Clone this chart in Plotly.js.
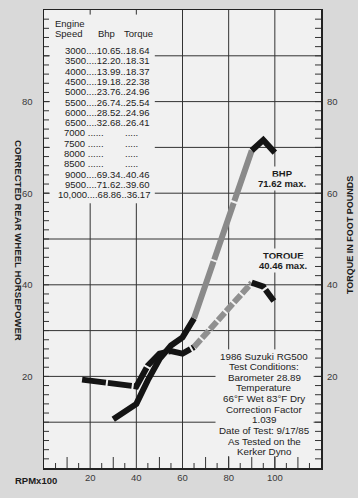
<!DOCTYPE html>
<html>
<head>
<meta charset="utf-8">
<script src="https://cdn.plot.ly/plotly-3.0.1.min.js"></script>
<style>html,body{margin:0;padding:0;background:#d9d9d9;}#chart{width:358px;height:498px;}</style>
</head>
<body>
<div id="chart"></div>
<script>
// ---- data (table printed on the chart) ----
const engineSpeed = [3000, 3500, 4000, 4500, 5000, 5500, 6000, 6500, 7000, 7500, 8000, 8500, 9000, 9500, 10000];
const bhpTable    = [10.65, 12.20, 13.99, 19.18, 23.76, 26.74, 28.52, 32.68, null, null, null, null, 69.34, 71.62, 68.86];
const torqueTable = [18.64, 18.31, 18.37, 22.38, 24.96, 25.54, 24.96, 26.41, null, null, null, null, 40.46, 39.60, 36.17];

// ---- curves as drawn (RPM x100) ----
const bhpMeasRpm   = [30, 35, 40, 45, 50, 55, 60, 65];
const bhpMeasVal   = [10.65, 12.20, 13.99, 19.18, 23.76, 26.74, 28.52, 32.68];
const bhpGapRpm    = [65, 90];
const bhpGapVal    = [32.68, 69.34];
const bhpTopRpm    = [90, 95, 100];
const bhpTopVal    = [69.34, 71.62, 68.86];

const tqMeasRpm    = [16.5, 40, 45, 50, 55, 60, 65];
const tqMeasVal    = [19.3, 17.8, 22.38, 24.96, 25.54, 24.96, 26.41];
const tqGapRpm     = [65, 90];
const tqGapVal     = [26.41, 40.46];
const tqTopRpm     = [90, 95, 100];
const tqTopVal     = [40.46, 39.60, 36.17];

// ---- ticks ----
const xTickVals = [20, 40, 60, 80, 100];
const xTickText = ['20', '40', '60', '80', '100'];
const xLongTicks = [10, 30, 50, 70, 80, 90, 100, 110];
const yGridVals = [10, 20, 30, 40, 50, 60, 70, 80, 90];
const yGridText = ['', '20', '', '40', '', '60', '', '80', ''];
const yRightVals = [20, 40, 60, 80];
const yRightText = ['20', '40', '60', '80'];

const infoLines = ['1986 Suzuki RG500', 'Test Conditions:', 'Barometer 28.89', 'Temperature',
  '66°F Wet 83°F Dry', 'Correction Factor', '1.039', 'Date of Test: 9/17/85', 'As Tested on the', 'Kerker Dyno'];

// ---- layout helpers ----
const W = 358, H = 498, ML = 44, MR = 37, MT = 10, MB = 30;
const PW = W - ML - MR, PH = H - MT - MB;
const X_MAX = 120, Y_MAX = 100;
const UX = X_MAX / PW, UY = Y_MAX / PH;          // data units per pixel
const px = p => (p - ML) / PW;
const py = p => (H - MB - p) / PH;
const FONT = '"Liberation Sans", Arial, Helvetica, sans-serif';
const INK = '#1c1c1c';
const PLOTBG = '#f1f1f1';
const TICK = '#333';

// blank panels (grid is interrupted behind the table and the note)
const panels = [
  {x0: 2.5, x1: 48, y0: 57.8, y1: 99},
  {x0: 74.3, x1: 116.8, y0: 2.6, y1: 25.9}
];
function cutSegment(a, b, cuts) {
  let segs = [[a, b]];
  cuts.forEach(([c0, c1]) => {
    const next = [];
    segs.forEach(([s0, s1]) => {
      if (c1 <= s0 || c0 >= s1) { next.push([s0, s1]); return; }
      if (c0 > s0) next.push([s0, c0]);
      if (c1 < s1) next.push([c1, s1]);
    });
    segs = next;
  });
  return segs;
}

// grid lines and tick marks of the printed chart (built from the tick arrays)
const gridX = [], gridY = [];
xTickVals.forEach(v => {
  const cuts = panels.filter(p => v > p.x0 && v < p.x1).map(p => [p.y0, p.y1]);
  cutSegment(0, Y_MAX, cuts).forEach(([s0, s1]) => { gridX.push(v, v, null); gridY.push(s0, s1, null); });
});
yGridVals.forEach(v => {
  const cuts = panels.filter(p => v > p.y0 && v < p.y1).map(p => [p.x0, p.x1]);
  cutSegment(0, X_MAX, cuts).forEach(([s0, s1]) => { gridX.push(s0, s1, null); gridY.push(v, v, null); });
});
const tickX = [], tickY = [];
for (let v = 5; v < X_MAX; v += 5) {
  if (xTickVals.includes(v) && !xLongTicks.includes(v)) continue;
  const len = xLongTicks.includes(v) ? 11 : 5;
  tickX.push(v, v, null); tickY.push(0, len * UY, null);
}
for (let v = 2; v < Y_MAX; v += 2) {
  tickX.push(0, 5 * UX, null); tickY.push(v, v, null);
  tickX.push(X_MAX - 6 * UX, X_MAX, null); tickY.push(v, v, null);
}

const BLACK = '#141414', GRAY = '#8a8a8a';
const traces = [
  {x: gridX, y: gridY, mode: 'lines', line: {color: TICK, width: 1}, hoverinfo: 'skip'},
  {x: tickX, y: tickY, mode: 'lines', line: {color: TICK, width: 1}, hoverinfo: 'skip'},
  {x: bhpMeasRpm, y: bhpMeasVal, mode: 'lines', line: {color: BLACK, width: 6}, hoverinfo: 'skip'},
  {x: bhpGapRpm, y: bhpGapVal, mode: 'lines', line: {color: GRAY, width: 6, dash: '60px,2px'}, hoverinfo: 'skip'},
  {x: bhpTopRpm, y: bhpTopVal, mode: 'lines', line: {color: BLACK, width: 6}, hoverinfo: 'skip'},
  {x: tqMeasRpm, y: tqMeasVal, mode: 'lines', xaxis: 'x2', yaxis: 'y2', line: {color: BLACK, width: 6, dash: '24px,2px'}, hoverinfo: 'skip'},
  {x: tqGapRpm, y: tqGapVal, mode: 'lines', xaxis: 'x2', yaxis: 'y2', line: {color: '#909090', width: 6, dash: '10px,2px'}, hoverinfo: 'skip'},
  {x: tqTopRpm, y: tqTopVal, mode: 'lines', xaxis: 'x2', yaxis: 'y2', line: {color: BLACK, width: 6, dash: '14px,2px'}, hoverinfo: 'skip'}
];

const annotations = [];
function txt(t, x, y, opts) {
  annotations.push(Object.assign({
    text: t, xref: 'paper', yref: 'paper', x: px(x), y: py(y), showarrow: false,
    xanchor: 'left', yanchor: 'middle', font: {family: FONT, size: 9.5, color: INK}
  }, opts || {}));
}

// table header
txt('Engine', 53, 24);
txt('Speed', 53, 33.5);
txt('Bhp', 96, 33.5);
txt('Torque', 122, 33.5);
// table rows
engineSpeed.forEach((r, i) => {
  const yy = 50.5 + 10.3 * i;
  const lab = r >= 10000 ? r.toLocaleString('en-US') : String(r);
  if (bhpTable[i] == null) {
    txt(lab + ' ......', 61.5, yy);
    txt('.....', 122.5, yy);
  } else {
    txt(lab + '....' + bhpTable[i].toFixed(2) + '..' + torqueTable[i].toFixed(2), 152, yy, {xanchor: 'right'});
  }
});

// info block
infoLines.forEach((t, i) => {
  txt(t, 264, 356 + 10.65 * i, {xanchor: 'center', font: {family: FONT, size: 9.8, color: INK}});
});

// curve labels
const bold = {family: FONT, size: 9.5, color: INK};
txt('<b>BHP</b>', 282, 173, {xanchor: 'center', font: bold, bgcolor: PLOTBG});
txt('<b>' + Math.max(...bhpTopVal).toFixed(2) + ' max.</b>', 282, 183.5, {xanchor: 'center', font: bold, bgcolor: PLOTBG});
txt('<b>TORQUE</b>', 283, 255, {xanchor: 'center', font: bold, bgcolor: PLOTBG});
txt('<b>' + Math.max(...tqTopVal).toFixed(2) + ' max.</b>', 283, 265.5, {xanchor: 'center', font: bold, bgcolor: PLOTBG});

// axis titles
txt('<b>CORRECTED REAR WHEEL HORSEPOWER</b>', 18, 240, {xanchor: 'center', textangle: 90, font: {family: FONT, size: 9.6, color: INK}});
txt('<b>TORQUE IN FOOT POUNDS</b>', 350, 235, {xanchor: 'center', textangle: -90, font: {family: FONT, size: 9, color: INK}});
txt('<b>RPMx100</b>', 36, 480, {xanchor: 'center', font: {family: FONT, size: 9.5, color: INK}});

const tickFont = {family: FONT, size: 9.5, color: '#3a3a3a'};

const layout = {
  width: W, height: H,
  margin: {l: ML, r: MR, t: MT, b: MB, pad: 0},
  paper_bgcolor: '#d9d9d9', plot_bgcolor: 'rgba(0,0,0,0)',
  showlegend: false,
  xaxis: {
    range: [0, X_MAX], tickmode: 'array', tickvals: xTickVals, ticktext: xTickText,
    showgrid: false, zeroline: false, ticks: '',
    showline: true, mirror: true, linecolor: '#222', linewidth: 1.5,
    tickfont: tickFont, fixedrange: true
  },
  yaxis: {
    range: [0, Y_MAX], tickmode: 'array', tickvals: yGridVals, ticktext: yGridText,
    showgrid: false, zeroline: false, ticks: '',
    showline: true, mirror: true, linecolor: '#222', linewidth: 1.5,
    tickfont: tickFont, ticklabelstandoff: 8, fixedrange: true
  },
  xaxis2: {anchor: 'y2', range: [0, X_MAX], showticklabels: false, showgrid: false, zeroline: false,
    showline: false, ticks: '', fixedrange: true},
  yaxis2: {anchor: 'x2', side: 'right', range: [0, Y_MAX], tickmode: 'array', tickvals: yRightVals, ticktext: yRightText,
    showgrid: false, zeroline: false, showline: false, ticks: '', tickfont: tickFont,
    ticklabelstandoff: 5, fixedrange: true},
  shapes: [
    // plot-area background
    {type: 'rect', xref: 'paper', yref: 'paper', x0: 0, x1: 1, y0: 0, y1: 1, fillcolor: PLOTBG, line: {width: 0}, layer: 'below'}
  ],
  annotations: annotations
};

Plotly.newPlot('chart', traces, layout, {staticPlot: true, displayModeBar: false});
</script>
</body>
</html>
